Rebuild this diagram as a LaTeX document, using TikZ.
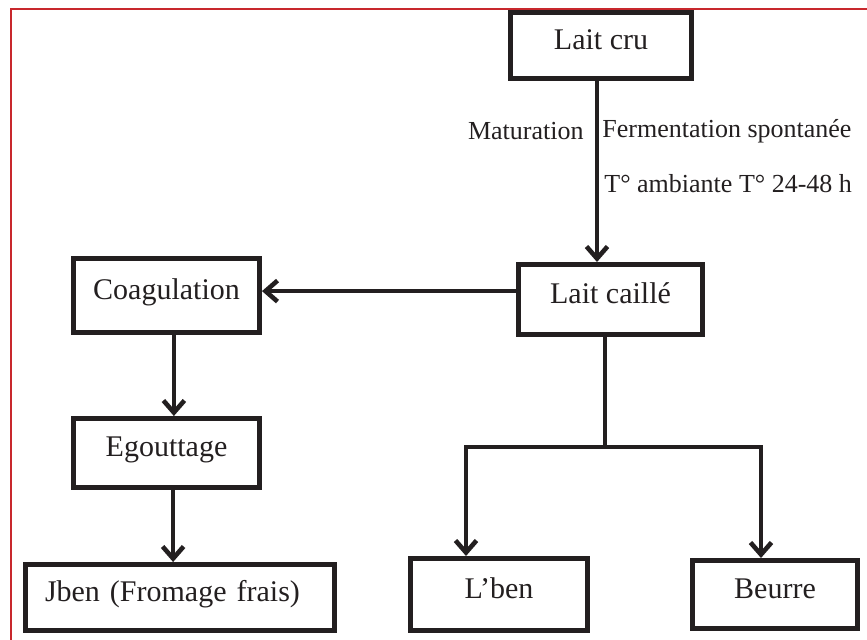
\documentclass[tikz,border=0pt]{standalone}
\usepackage{fontspec}
\setmainfont{Liberation Serif}
\usetikzlibrary{arrows.meta}
\definecolor{ink}{HTML}{231F20}
\definecolor{framered}{HTML}{C8282D}
\begin{document}
\begin{tikzpicture}[x=0.5pt,y=-0.5pt,
  box/.style={draw=ink, line width=2.5pt, rectangle, inner sep=0pt,
    font=\fontsize{15pt}{18pt}\selectfont, text=ink,
    text height=0.7em, text depth=0.3em},
  lab/.style={font=\fontsize{13pt}{16pt}\selectfont, text=ink, inner sep=0pt},
  conn/.style={draw=ink, line width=2.3pt},
  arr/.style={conn, -{Straight Barb[length=6pt,width=10.5pt]}}
]
\useasboundingbox (0,0) rectangle (867,640);
% frame
\draw[framered, line width=0.6pt] (11,640) -- (11,9) -- (867,9);
% boxes
\node[box, minimum width=90.5pt, minimum height=33pt] (laitcru) at (601,45.5) {Lait cru};
\node[box, minimum width=92pt, minimum height=35pt] (caille) at (610.5,299.5) {Lait caillé};
\node[box, minimum width=93pt, minimum height=37pt] (coag) at (166.5,295.5) {Coagulation};
\node[box, minimum width=93pt, minimum height=34.5pt] (egout) at (166.5,453) {Egouttage};
\node[box, minimum height=33pt, text width=135pt, align=left, inner xsep=9.75pt] (jben) at (180,597.5) {Jben (Fromage frais)};
\node[box, minimum width=88.5pt, minimum height=36pt] (lben) at (499,594.5) {L’ben};
\node[box, minimum width=82.5pt, minimum height=34pt] (beurre) at (775,594.5) {Beurre};
% labels
\node[lab, anchor=east] (mat) at (584,131) {Maturation};
\node[lab, anchor=west] (ferm) at (602,131) {Fermentation spontanée};
\node[lab, anchor=west] (temp) at (604,184) {T° ambiante T° 24-48 h};
% connectors
\draw[arr] ([xshift=-2pt]laitcru.south) -- ([xshift=-2pt]laitcru.south |- caille.north);
\draw[arr] ([yshift=4.2pt]caille.west) -- ([yshift=4.2pt]caille.west -| coag.east);
\draw[arr] ([xshift=3.7pt]coag.south) -- ([xshift=3.7pt]coag.south |- egout.north);
\draw[arr] ([xshift=3.3pt]egout.south) -- ([xshift=3.3pt]egout.south |- jben.north);
\coordinate (junc) at (605,447);
\coordinate (jl) at (466,447);
\coordinate (jr) at (761,447);
\draw[conn] (caille.south -| junc) -- (junc);
\draw[arr, line join=miter] (junc) -- (jl) -- (jl |- lben.north);
\draw[arr, line join=miter] (junc) -- (jr) -- (jr |- beurre.north);
\end{tikzpicture}
\end{document}
